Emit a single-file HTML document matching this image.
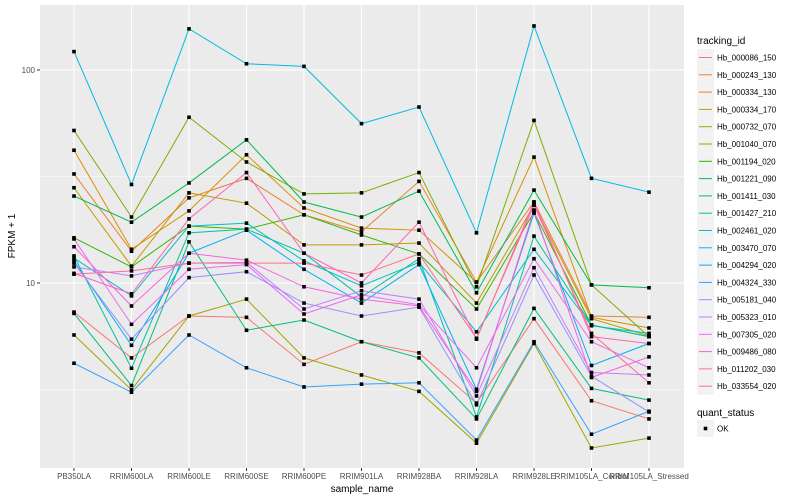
<!DOCTYPE html>
<html><head><meta charset="utf-8"><style>
body{margin:0;background:#fff;}
svg{display:block;font-family:"Liberation Sans",sans-serif;}
</style></head><body>
<svg id="chart" width="800" height="500"></svg>
<script>
const categories=["PB350LA","RRIM600LA","RRIM600LE","RRIM600SE","RRIM600PE","RRIM901LA","RRIM928BA","RRIM928LA","RRIM928LE","RRIM105LA_Control","RRIM105LA_Stressed"];
const seriesNames=["Hb_000086_150","Hb_000243_130","Hb_000334_130","Hb_000334_170","Hb_000732_070","Hb_001040_070","Hb_001194_020","Hb_001221_090","Hb_001411_030","Hb_001427_210","Hb_002461_020","Hb_003470_070","Hb_004294_020","Hb_004324_330","Hb_005181_040","Hb_005323_010","Hb_007305_020","Hb_009486_080","Hb_011202_030","Hb_033554_020"];
const seriesColors=["#F8766D","#EA8331","#D89000","#C09B00","#A3A500","#7CAE00","#39B600","#00BB4E","#00BF7D","#00C1A3","#00BFC4","#00BAE0","#00B0F6","#35A2FF","#9590FF","#C77CFF","#E76BF3","#FA62DB","#FF62BC","#FF6C91"];
const s0=[7.3,4.45,7.0,6.9,4.15,5.3,4.7,2.73,6.8,2.8,2.3];
const s1=[32.5,14.1,25.1,31,20.9,17.4,30,10.1,24,7.0,6.9];
const s2=[42,14.4,21.8,40,22.5,18.1,17.7,10.1,39,6.9,6.15];
const s3=[28,12,26.5,23.7,15.1,15.1,15.4,8.05,23.2,6.8,5.65];
const s4=[5.7,3.15,7.0,8.4,4.45,3.7,3.1,1.77,5.2,1.68,1.87];
const s5=[52,20.4,60,37,26.2,26.5,33,9.6,58,9.8,5.6];
const s6=[16.3,11.9,18.5,17.9,20.9,16.8,13.7,7.55,21.5,6.35,5.6];
const s7=[25.6,19.3,29.5,47,24,20.4,27,9.0,27.3,9.8,9.5];
const s8=[7.2,3.3,15.6,6.0,6.7,5.3,4.45,2.3,7.6,3.2,2.82];
const s9=[13.4,3.98,17.2,17.9,13.8,8.6,13,2.35,16.6,6.35,5.6];
const s10=[13.1,8.7,18.5,19.1,12.7,9.7,12.5,5.9,14.4,6.3,5.8];
const s11=[122,29,156,107,104,56,67,17.2,161,31,26.7];
const s12=[12.7,5.1,13.8,17.7,11.6,8.05,12.2,3.17,21.3,4.1,5.2];
const s13=[4.2,3.07,5.7,4.0,3.25,3.35,3.4,1.83,5.3,1.95,2.5];
const s14=[12.4,5.45,10.6,11.3,8.05,7.0,7.7,2.68,10.9,3.65,2.48];
const s15=[11.9,10.8,12.4,12.5,7.55,9.2,8.4,2.95,11.8,3.8,3.7];
const s16=[16.1,6.4,11.6,12.2,7.15,8.8,7.9,4.0,13,5.3,4.0];
const s17=[14.8,7.8,13.8,12.8,9.6,8.4,7.8,3.1,22,3.6,4.5];
const s18=[11.1,8.9,20,33,13.8,10,19.3,5.45,24,5.6,5.2];
const s19=[11,11.4,12.4,12.4,12.4,10.9,13.7,5.5,23.2,5.8,3.4];
const seriesValues=[s0,s1,s2,s3,s4,s5,s6,s7,s8,s9,s10,s11,s12,s13,s14,s15,s16,s17,s18,s19];
const yTicks=[10,100];
const yMinor=[3.1623,31.623];

const NS="http://www.w3.org/2000/svg";
const svg=document.getElementById("chart");
const P={l:40,r:684,t:5,b:468};
const x0=74,dx=57.5;
function xs(i){return x0+i*dx;}
function ys(v){return 283-213*(Math.log10(v)-1);}
function mk(tag,attrs,parent){const e=document.createElementNS(NS,tag);for(const k in attrs)e.setAttribute(k,attrs[k]);(parent||svg).appendChild(e);return e;}

const bg=mk("rect",{x:P.l,y:P.t,width:P.r-P.l,height:P.b-P.t,fill:"#EBEBEB"});


yMinor.forEach(v=>{const l=mk("line",{x1:P.l,x2:P.r,y1:ys(v),y2:ys(v),stroke:"#fff","stroke-width":0.5});

});
yTicks.forEach(v=>{const l=mk("line",{x1:P.l,x2:P.r,y1:ys(v),y2:ys(v),stroke:"#fff","stroke-width":1.1});


const tk=mk("line",{x1:37,x2:40,y1:ys(v),y2:ys(v),stroke:"#333","stroke-width":1});


const t=mk("text",{x:35,y:ys(v)+3,"text-anchor":"end","font-size":8,fill:"#4D4D4D"});t.textContent=v;

});
categories.forEach((c,i)=>{const l=mk("line",{x1:xs(i),x2:xs(i),y1:P.t,y2:P.b,stroke:"#fff","stroke-width":1.1});


const tk=mk("line",{x1:xs(i),x2:xs(i),y1:P.b,y2:P.b+3,stroke:"#333","stroke-width":1});


const t=mk("text",{x:xs(i),y:479,"text-anchor":"middle","font-size":8,fill:"#4D4D4D"});t.textContent=c;

});
seriesValues.forEach((vals,s)=>{const pl=mk("polyline",{points:vals.map((v,i)=>xs(i)+","+ys(v)).join(" "),fill:"none",stroke:seriesColors[s],"stroke-width":1});

});
seriesValues.forEach((vals,s)=>{vals.forEach((v,i)=>{const r=mk("rect",{x:xs(i)-1.8,y:ys(v)-1.8,width:3.6,height:3.6,fill:"#000"});

});});

const xt=mk("text",{x:362,y:492,"text-anchor":"middle","font-size":10,fill:"#000"});xt.textContent="sample_name";


const yt=mk("text",{x:0,y:0,"text-anchor":"middle","font-size":10,fill:"#000",transform:"translate(15,236) rotate(-90)"});yt.textContent="FPKM + 1";



const lt=mk("text",{x:697,y:44,"font-size":10,fill:"#000"});lt.textContent="tracking_id";


seriesNames.forEach((n,s)=>{const y=49+s*17.3;
const g=mk("g",{});


mk("rect",{x:697,y:y,width:17,height:17,fill:"#F2F2F2"},g);
mk("line",{x1:699,x2:712,y1:y+8.5,y2:y+8.5,stroke:seriesColors[s],"stroke-width":1},g);
const t=mk("text",{x:717,y:y+11.5,"font-size":8,fill:"#000"},g);t.textContent=n;});
const qt=mk("text",{x:697,y:416,"font-size":10,fill:"#000"});qt.textContent="quant_status";


const qg=mk("g",{});


mk("rect",{x:697,y:420,width:17,height:17,fill:"#F2F2F2"},qg);
mk("rect",{x:703.7,y:426.7,width:3.6,height:3.6,fill:"#000"},qg);
const ok=mk("text",{x:717,y:431.5,"font-size":8,fill:"#000"},qg);ok.textContent="OK";
</script>
</body></html>
